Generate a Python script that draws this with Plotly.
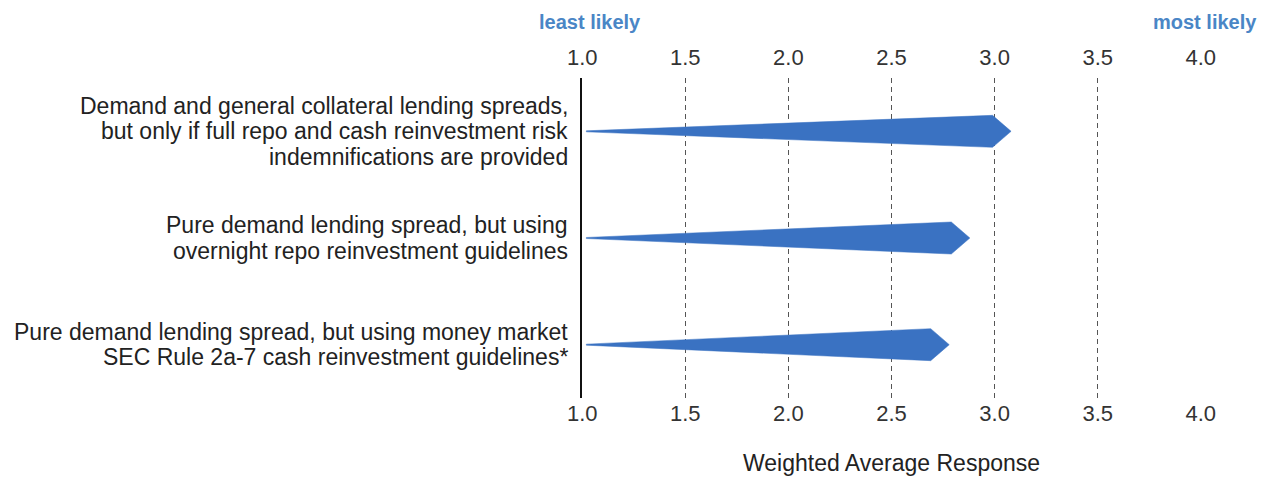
import plotly.graph_objects as go

# Survey options (top to bottom) and their weighted average response
categories = [
    "Demand and general collateral lending spreads,<br>but only if full repo and cash reinvestment risk<br>indemnifications are provided",
    "Pure demand lending spread, but using<br>overnight repo reinvestment guidelines",
    "Pure demand lending spread, but using money market<br>SEC Rule 2a-7 cash reinvestment guidelines*",
]
responses = [3.08, 2.88, 2.78]
tick_values = [1.0, 1.5, 2.0, 2.5, 3.0, 3.5, 4.0]
tick_labels = ["1.0", "1.5", "2.0", "2.5", "3.0", "3.5", "4.0"]

ARROW_BLUE = "#3A72C2"
LABEL_BLUE = "#4A86C6"
FONT = "Liberation Sans, Arial, sans-serif"

START = 1.02      # where each wedge begins on the scale
HEAD = 0.09       # length of the arrow head in scale units
HALF_W = 0.15     # half thickness at the shoulder, in row units
LINE_GAP = 25.5   # px between label lines

fig = go.Figure()

for i, (cat, val) in enumerate(zip(categories, responses)):
    shoulder = val - HEAD
    xs = [START, shoulder, val, shoulder, START, START]
    ys = [i - 0.005, i - HALF_W, i, i + HALF_W, i + 0.005, i - 0.005]
    fig.add_trace(go.Scatter(
        x=xs, y=ys, mode="lines", fill="toself",
        fillcolor=ARROW_BLUE, line=dict(color=ARROW_BLUE, width=0.5),
        hoverinfo="skip", showlegend=False,
    ))
    lines = cat.split("<br>")
    n = len(lines)
    for j, ln in enumerate(lines):
        fig.add_annotation(
            text=ln, xref="paper", yref="y", x=0, y=i,
            xanchor="right", yanchor="middle", xshift=-12,
            yshift=((n - 1) / 2 - j) * LINE_GAP,
            showarrow=False, align="right",
            font=dict(family=FONT, size=23, color="#222222"),
        )

# invisible trace so the top axis is rendered
fig.add_trace(go.Scatter(x=[1, 4], y=[0, 0], xaxis="x2", mode="markers",
                         marker=dict(opacity=0), hoverinfo="skip", showlegend=False))

axis_common = dict(
    range=[0.999, 4.001], tickmode="array", tickvals=tick_values, ticktext=tick_labels,
    tickfont=dict(family=FONT, size=22, color="#333333"), ticks="",
    zeroline=False, showline=False, fixedrange=True,
)

fig.update_layout(
    width=1274, height=479,
    margin=dict(l=582, r=73, t=78, b=81),
    paper_bgcolor="white", plot_bgcolor="white",
    font=dict(family=FONT),
    xaxis=dict(**axis_common, side="bottom", showgrid=True,
               gridcolor="#555555", gridwidth=1, griddash="5px,4px"),
    xaxis2=dict(**axis_common, side="top", overlaying="x", anchor="y",
                showgrid=False, ticklabelstandoff=8),
    yaxis=dict(range=[2.5, -0.5], showticklabels=False, showgrid=False,
               zeroline=False, showline=True, linecolor="#111111", linewidth=1.5,
               ticks="", fixedrange=True),
)

fig.add_annotation(text="least likely", xref="paper", yref="paper", x=0.013, y=1.175,
                   xanchor="center", yanchor="middle", showarrow=False,
                   font=dict(family=FONT, size=20, color=LABEL_BLUE, weight="bold"))
fig.add_annotation(text="most likely", xref="paper", yref="paper", x=1.006, y=1.175,
                   xanchor="center", yanchor="middle", showarrow=False,
                   font=dict(family=FONT, size=20, color=LABEL_BLUE, weight="bold"))
fig.add_annotation(text="Weighted Average Response", xref="paper", yref="paper",
                   x=0.5, y=-0.203, xanchor="center", yanchor="middle", showarrow=False,
                   font=dict(family=FONT, size=23, color="#222222"))

fig.write_html("out.html")
